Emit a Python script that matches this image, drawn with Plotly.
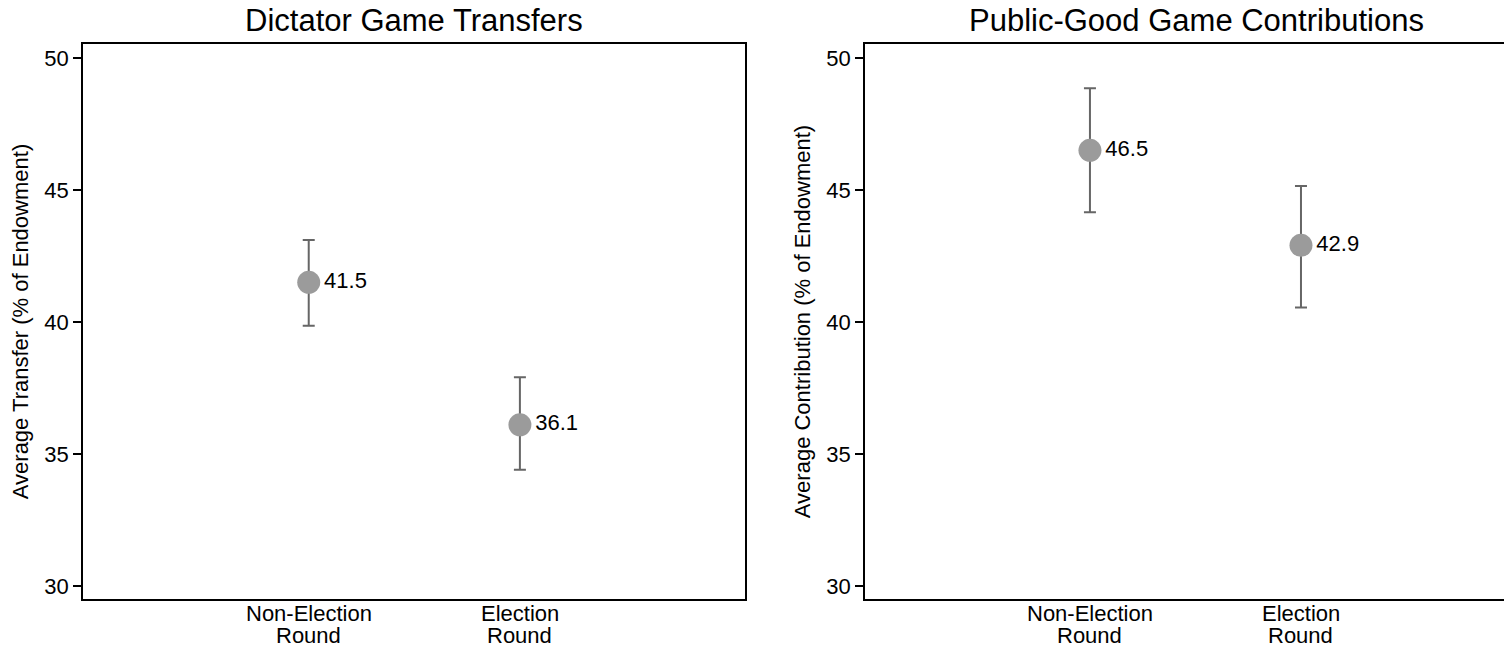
import plotly.graph_objects as go

categories = ["Non-Election<br>Round", "Election<br>Round"]
cat_pos = [1, 2]

dict_mean = [41.5, 36.1]
dict_upper = [43.1, 37.9]
dict_lower = [39.85, 34.4]

pg_mean = [46.5, 42.9]
pg_upper = [48.85, 45.15]
pg_lower = [44.15, 40.55]

y_ticks = [30, 35, 40, 45, 50]

titles = ["Dictator Game Transfers", "Public-Good Game Contributions"]
y_titles = ["Average Transfer (% of Endowment)", "Average Contribution (% of Endowment)"]

FONT = "Liberation Sans, Arial, sans-serif"
# page has an 8px body margin; figure is sized so it ends at the window edge
W, H = 1504, 641
OFF = 8

fig = go.Figure()

def add_panel(mean, upper, lower, xa, ya):
    fig.add_trace(go.Scatter(
        x=cat_pos, y=mean,
        mode="markers+text",
        text=[f"{v:.1f}" for v in mean],
        textposition="middle right",
        textfont=dict(family=FONT, size=22, color="black"),
        marker=dict(size=23, color="#9b9b9b"),
        error_y=dict(type="data", symmetric=False,
                     array=[u - m for u, m in zip(upper, mean)],
                     arrayminus=[m - l for m, l in zip(mean, lower)],
                     color="#666666", thickness=2, width=6),
        xaxis=xa, yaxis=ya, showlegend=False, cliponaxis=False,
    ))

add_panel(dict_mean, dict_upper, dict_lower, "x", "y")
add_panel(pg_mean, pg_upper, pg_lower, "x2", "y2")

common_x = dict(tickmode="array", tickvals=cat_pos, showticklabels=False,
                ticks="", showgrid=False, zeroline=False, showline=True,
                linecolor="black", linewidth=1.5, automargin=False)
common_y = dict(tickmode="array", tickvals=y_ticks, ticks="outside", ticklen=8,
                tickwidth=1.5, tickcolor="black", showgrid=False, zeroline=False,
                showline=True, linecolor="black", linewidth=1.5, automargin=False,
                range=[29.5, 50.53],
                tickfont=dict(family=FONT, size=22, color="black"))

L0, L1 = 83 - OFF, 745 - OFF
R0 = 865 - OFF
TOP, BOT = 44 - OFF, 599 - OFF
PH = BOT - TOP

def py(page_y):
    return (BOT - (page_y - OFF)) / PH

fig.update_layout(
    width=W, height=H,
    paper_bgcolor="white", plot_bgcolor="white",
    margin=dict(l=0, r=0, t=TOP, b=H - BOT),
    xaxis=dict(**common_x, domain=[L0 / W, L1 / W], range=[-0.069, 3.066], mirror=True),
    yaxis=dict(**common_y, mirror=True,
               title=dict(text=y_titles[0], font=dict(family=FONT, size=22, color="black"), standoff=10)),
    xaxis2=dict(**common_x, domain=[R0 / W, 1.0], range=[-0.066, 3.0], mirror=True),
    yaxis2=dict(**common_y, anchor="x2",
                title=dict(text=y_titles[1], font=dict(family=FONT, size=22, color="black"), standoff=10)),
)
fig.update_layout(xaxis2=dict(anchor="y2"), yaxis2=dict(mirror=False))

# category labels, one annotation per line for tight line spacing
line_ys = [613, 635]
for xref in ["x", "x2"]:
    for pos, cat in zip(cat_pos, categories):
        for ly, line in zip(line_ys, cat.split("<br>")):
            fig.add_annotation(text=line, x=pos, xref=xref, y=py(ly), yref="paper",
                               xanchor="center", yanchor="middle", showarrow=False,
                               font=dict(family=FONT, size=22, color="black"))

for i, t in enumerate(titles):
    x0, x1 = [(L0, L1), (R0, R0 + 662)][i]
    fig.add_annotation(text=t, x=(x0 + x1) / 2 / W, y=py(21), xref="paper", yref="paper",
                       yanchor="middle", xanchor="center", showarrow=False,
                       font=dict(family=FONT, size=31, color="black"))

fig.write_html("out.html")
